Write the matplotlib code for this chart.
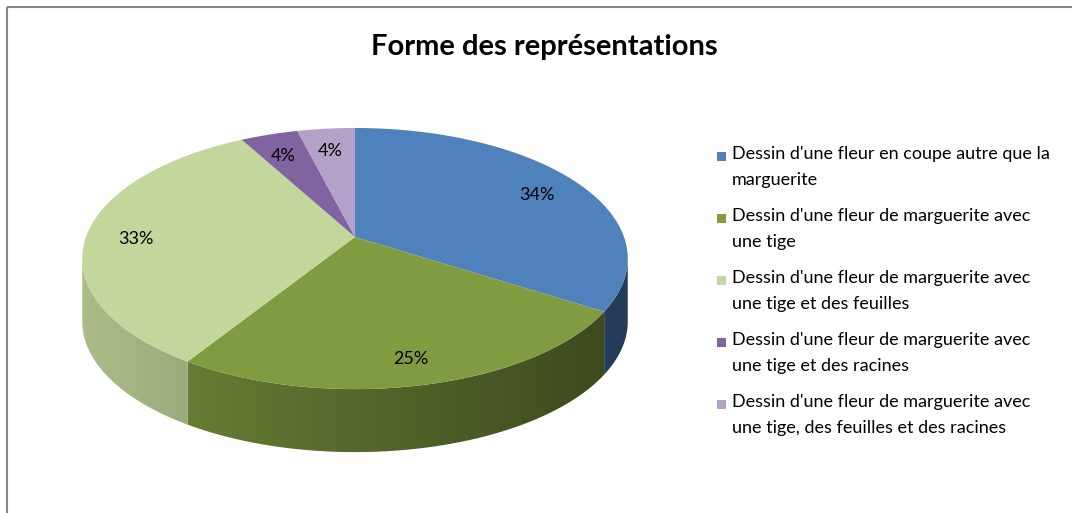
import numpy as np
import matplotlib.pyplot as plt
from matplotlib.colors import to_rgb
from matplotlib.patches import Polygon, Rectangle

# data
labels = [
    "Dessin d'une fleur en coupe autre que la\nmarguerite",
    "Dessin d'une fleur de marguerite avec\nune tige",
    "Dessin d'une fleur de marguerite avec\nune tige et des feuilles",
    "Dessin d'une fleur de marguerite avec\nune tige et des racines",
    "Dessin d'une fleur de marguerite avec\nune tige, des feuilles et des racines",
]
values = [34, 25, 33, 4, 4]
colors = ["#4F81BD", "#809B40", "#C3D69B", "#8064A2", "#B3A2C7"]
title = "Forme des représentations"

plt.rcParams['font.family'] = ['Lato', 'DejaVu Sans']

W, H = 1072, 513
fig = plt.figure(figsize=(W / 100, H / 100), dpi=100)
ax = fig.add_axes([0, 0, 1, 1])

# pie geometry (pixel space), simple perspective tilt
cx, cy = 355, 237
A, B, p = 269, 127, 0.165
depth = 63


def proj(u, v):
    w = 1 + p * v
    return cx + A * u / w, cy - B * v / w


def arc(a0, a1, n=200):
    t = np.radians(np.linspace(a0, a1, n))
    return proj(np.cos(t), np.sin(t))


fracs = np.array(values) / sum(values)
starts = 90 - 360 * np.concatenate([[0], np.cumsum(fracs)[:-1]])
ends = starts - 360 * fracs

# visible front arc of the side wall
tmin = np.degrees(np.arcsin(p))
front0, front1 = 180 + tmin, 360 - tmin
x_left, _ = proj(np.cos(np.radians(front0)), np.sin(np.radians(front0)))
x_right, _ = proj(np.cos(np.radians(front1)), np.sin(np.radians(front1)))
y_bottom = cy + B / (1 - p) + depth

# side walls with horizontal shading
for s, e, c in zip(starts, ends, colors):
    lo, hi = e % 360, s % 360
    if hi <= lo:
        hi += 360
    segs = []
    for off in (0, 360, -360):
        a0, a1 = max(lo, front0 + off), min(hi, front1 + off)
        if a1 > a0:
            segs.append((a0, a1))
    for a0, a1 in segs:
        xs, ys = arc(a0, a1)
        pts = np.column_stack([np.r_[xs, xs[::-1]], np.r_[ys, ys[::-1] + depth]])
        poly = Polygon(pts, closed=True, facecolor='none', edgecolor='none')
        ax.add_patch(poly)
        gx = np.linspace(x_left, x_right, 300)
        f = 0.88 - 0.42 * (gx - x_left) / (x_right - x_left)
        base = np.array(to_rgb(c))
        img = np.clip(base[None, :] * f[:, None], 0, 1)[None, :, :]
        im = ax.imshow(img, extent=(x_left, x_right, y_bottom + 10, cy - 10),
                       aspect='auto', interpolation='bilinear', zorder=1)
        im.set_clip_path(poly)

# top faces
for s, e, c in zip(starts, ends, colors):
    xs, ys = arc(s, e)
    pts = np.column_stack([np.r_[cx, xs], np.r_[cy, ys]])
    ax.add_patch(Polygon(pts, closed=True, facecolor=c, edgecolor='none', zorder=2))

# percentage labels
for s, e, v in zip(starts, ends, values):
    m = np.radians((s + e) / 2)
    lx, ly = proj(0.82 * np.cos(m), 0.82 * np.sin(m))
    ax.text(lx, ly + 5, f"{v}%", ha='center', va='center', fontsize=13,
            color='black', zorder=3)

# legend
for i, (lab, c) in enumerate(zip(labels, colors)):
    y0 = 157 + i * 62
    ax.add_patch(Rectangle((717, y0 - 5), 9, 9, facecolor=c, edgecolor='none'))
    ax.text(732, y0 - 11, lab, ha='left', va='top', fontsize=13,
            linespacing=1.8, color='black')

ax.text(544, 47, title, ha='center', va='center', fontsize=21, fontweight='bold')

# chart frame
ax.add_patch(Rectangle((7, 7), 1200, 700, facecolor='none', edgecolor='#868686', lw=1.5))

ax.set_xlim(0, W)
ax.set_ylim(H, 0)
ax.axis('off')

fig.savefig('out.png', dpi=100)
